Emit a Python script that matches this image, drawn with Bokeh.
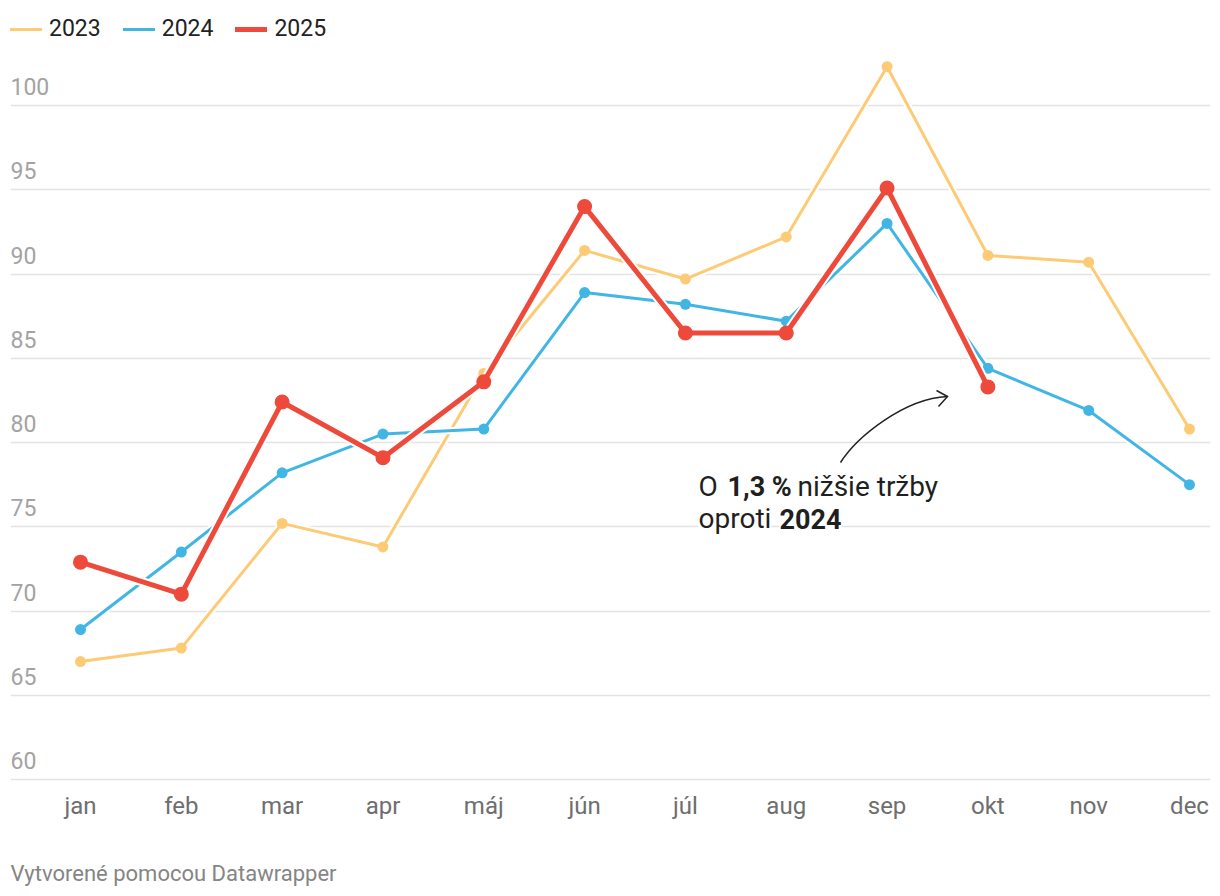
from bokeh.plotting import figure
from bokeh.models import Range1d, FixedTicker, Legend, LegendItem, Label, LinearAxis
from bokeh.core.properties import value
from bokeh.embed import file_html
from bokeh.resources import INLINE

# ---------------- data ----------------
months = ["jan", "feb", "mar", "apr", "máj", "jún", "júl", "aug", "sep", "okt", "nov", "dec"]
sales_2023 = [67.0, 67.8, 75.2, 73.8, 84.1, 91.4, 89.7, 92.2, 102.3, 91.1, 90.7, 80.8]
sales_2024 = [68.9, 73.5, 78.2, 80.5, 80.8, 88.9, 88.2, 87.2, 93.0, 84.4, 81.9, 77.5]
sales_2025 = [72.9, 71.0, 82.4, 79.1, 83.6, 94.0, 86.5, 86.5, 95.1, 83.3]
y_ticks = [60, 65, 70, 75, 80, 85, 90, 95, 100]
year_labels = ["2023", "2024", "2025"]
footer_text = "Vytvorené pomocou Datawrapper"

# ---------------- styles ----------------
colors = ["#fdca75", "#41b6e5", "#ee4a3b"]
line_widths = [3, 3, 5]
marker_sizes = [11, 11, 15]
FONT = "Roboto"

# layout helpers: canvas pixel -> data coordinates
X_JAN, X_STEP = 80.0, 100.82
Y_60, Y_UNIT = 779.0, 16.85
FRAME_L, FRAME_R, FRAME_T, FRAME_B = 10, 1210, 0, 785
W, H = 1216, 892


def dx(px):
    return (px - X_JAN) / X_STEP


def dy(py):
    return 60 + (Y_60 - py) / Y_UNIT


p = figure(width=W, height=H,
           x_range=Range1d(dx(FRAME_L), dx(FRAME_R)), y_range=Range1d(dy(FRAME_B), dy(FRAME_T)),
           output_backend="svg", toolbar_location=None,
           y_axis_location=None,
           min_border_left=FRAME_L, min_border_right=W - FRAME_R, min_border_top=FRAME_T,
           min_border_bottom=H - FRAME_B)
p.outline_line_color = None
p.background_fill_color = "white"
p.border_fill_color = "white"

# grid
p.xgrid.visible = False
p.ygrid.ticker = FixedTicker(ticks=y_ticks)
p.ygrid.grid_line_color = "#e3e3e3"
p.ygrid.grid_line_width = 1.5


def style_axis(ax, standoff, size, color):
    ax.axis_line_color = None
    ax.major_tick_line_color = None
    ax.minor_tick_line_color = None
    ax.major_tick_out = 0
    ax.major_tick_in = 0
    ax.major_label_standoff = standoff
    ax.major_label_text_font = FONT
    ax.major_label_text_font_size = size
    ax.major_label_text_color = color


# x axis (months)
xaxis = p.xaxis[0]
xaxis.ticker = FixedTicker(ticks=list(range(len(months))))
xaxis.major_label_overrides = {i: m for i, m in enumerate(months)}
style_axis(xaxis, 6, "24px", "#6e6e6e")

# footer line (credit) as a second bottom axis with a single label
footer_pos = dx(173)
footer_axis = LinearAxis(ticker=FixedTicker(ticks=[footer_pos]),
                         major_label_overrides={footer_pos: footer_text})
style_axis(footer_axis, 38, "22px", "#858585")
p.add_layout(footer_axis, "below")

# y tick labels (above gridlines, left aligned)
p.text(x=[dx(10)] * len(y_ticks), y=[v + 19 / Y_UNIT for v in y_ticks],
       text=[str(v) for v in y_ticks], text_align="left", text_baseline="alphabetic",
       text_font=value(FONT), text_font_size="23px", text_color="#a3a3a3")

# series
series = [sales_2023, sales_2024, sales_2025]
line_renderers = []
for vals, c, lw, ms in zip(series, colors, line_widths, marker_sizes):
    xs = list(range(len(vals)))
    p.line(xs, vals, line_color="white", line_width=lw + 4, line_join="round", line_cap="round")
    r = p.line(xs, vals, line_color=c, line_width=lw, line_join="round", line_cap="round")
    p.scatter(xs, vals, size=ms, fill_color=c, line_color=None)
    line_renderers.append(r)

# legend
legend = Legend(items=[LegendItem(label=lab, renderers=[r]) for lab, r in zip(year_labels, line_renderers)],
                orientation="horizontal", location=(0, (FRAME_B - FRAME_T) - 42),
                glyph_width=32, glyph_height=24, label_height=24, label_standoff=7, spacing=22,
                padding=0, margin=0, border_line_color=None, background_fill_alpha=0,
                label_text_font=FONT, label_text_font_size="23px", label_text_color="#222222",
                label_text_baseline="middle")
p.add_layout(legend, "center")

# annotation text
ann_color = "#1f1f1f"
segments = [
    ("O", 698, 486, "normal", "28px"),
    ("1,3 %", 727, 486, "bold", "27px"),
    ("nižšie tržby", 797, 486, "normal", "28px"),
    ("oproti", 698, 518, "normal", "28px"),
    ("2024", 779, 518, "bold", "27px"),
]
for txt, px, py, fw, fs in segments:
    p.add_layout(Label(x=dx(px), y=dy(py), text=txt, text_font=FONT, text_font_size=fs,
                       text_font_style=fw, text_color=ann_color, text_baseline="alphabetic",
                       background_fill_color="white"))

# annotation arrow
p.bezier(x0=[dx(840)], y0=[dy(462)], x1=[dx(947)], y1=[dy(396)],
         cx0=[dx(856)], cy0=[dy(437)], cx1=[dx(903)], cy1=[dy(398)],
         line_color="#222222", line_width=1.5)
p.multi_line(xs=[[dx(936), dx(947), dx(938)]], ys=[[dy(390), dy(396), dy(406)]],
             line_color="#222222", line_width=1.5, line_join="miter")

open("out.html", "w").write(file_html(p, INLINE))
